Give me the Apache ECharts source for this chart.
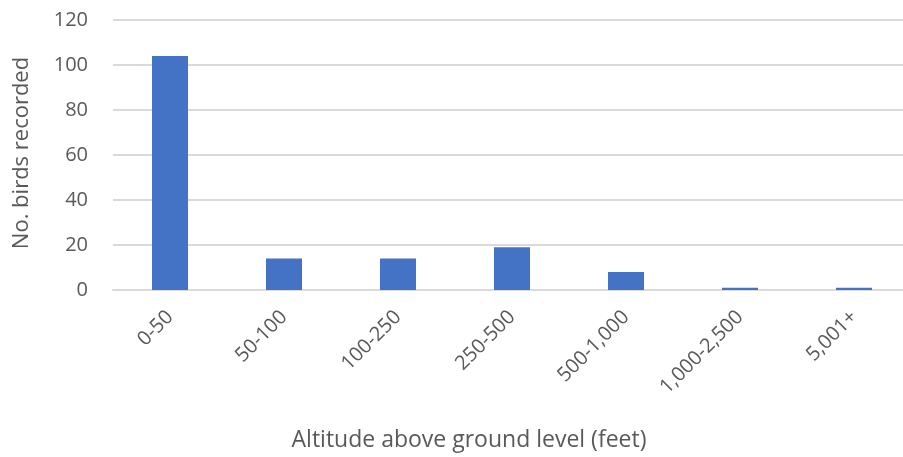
<!DOCTYPE html>
<html>
<head>
<meta charset="utf-8">
<script src="https://cdn.jsdelivr.net/npm/echarts@6/dist/echarts.min.js"></script>
<style>
  html, body { margin: 0; padding: 0; background: #ffffff; overflow: hidden; }
  #chart { width: 911px; height: 457px; }
</style>
</head>
<body>
<div id="chart"></div>
<script>
// Altitude bands (feet above ground level)
const altitudeBands = ['0-50', '50-100', '100-250', '250-500', '500-1,000', '1,000-2,500', '5,001+'];
// Number of birds recorded in each band
const birdCounts = [104, 14, 14, 19, 8, 1, 1];
// Value axis range
const yMin = 0;
const yMax = 120;
const yStep = 20;

const textColor = '#595959';
const fontFamily = '"Open Sans", "Noto Sans", sans-serif';

const chart = echarts.init(document.getElementById('chart'), null, { renderer: 'canvas' });

chart.setOption({
  animation: false,
  backgroundColor: '#ffffff',
  // The plot area runs slightly past the right edge of the visible window
  grid: { left: 113, top: 20, right: 0, height: 270, containLabel: false },
  xAxis: {
    type: 'category',
    data: altitudeBands,
    axisLine: { show: true, lineStyle: { color: '#d9d9d9', width: 2 } },
    axisTick: { show: false },
    axisLabel: {
      rotate: 45,
      color: textColor,
      fontFamily: fontFamily,
      fontSize: 20,
      margin: 24,
      interval: 0
    }
  },
  yAxis: {
    type: 'value',
    min: yMin,
    max: yMax,
    interval: yStep,
    axisLine: { show: false },
    axisTick: { show: false },
    splitLine: { lineStyle: { color: '#d9d9d9', width: 2 } },
    axisLabel: {
      color: textColor,
      fontFamily: fontFamily,
      fontSize: 20,
      margin: 25
    }
  },
  graphic: [{
    type: 'text',
    x: 469,
    y: 440,
    style: {
      text: 'Altitude above ground level (feet)',
      fill: textColor,
      font: '23px ' + fontFamily,
      textAlign: 'center',
      textVerticalAlign: 'middle'
    }
  }, {
    type: 'text',
    x: 22,
    y: 153,
    rotation: Math.PI / 2,
    style: {
      text: 'No. birds recorded',
      fill: textColor,
      font: '22px ' + fontFamily,
      textAlign: 'center',
      textVerticalAlign: 'middle'
    }
  }],
  series: [{
    type: 'bar',
    data: birdCounts,
    barWidth: 36,
    itemStyle: { color: '#4472c4' }
  }]
});
</script>
</body>
</html>
